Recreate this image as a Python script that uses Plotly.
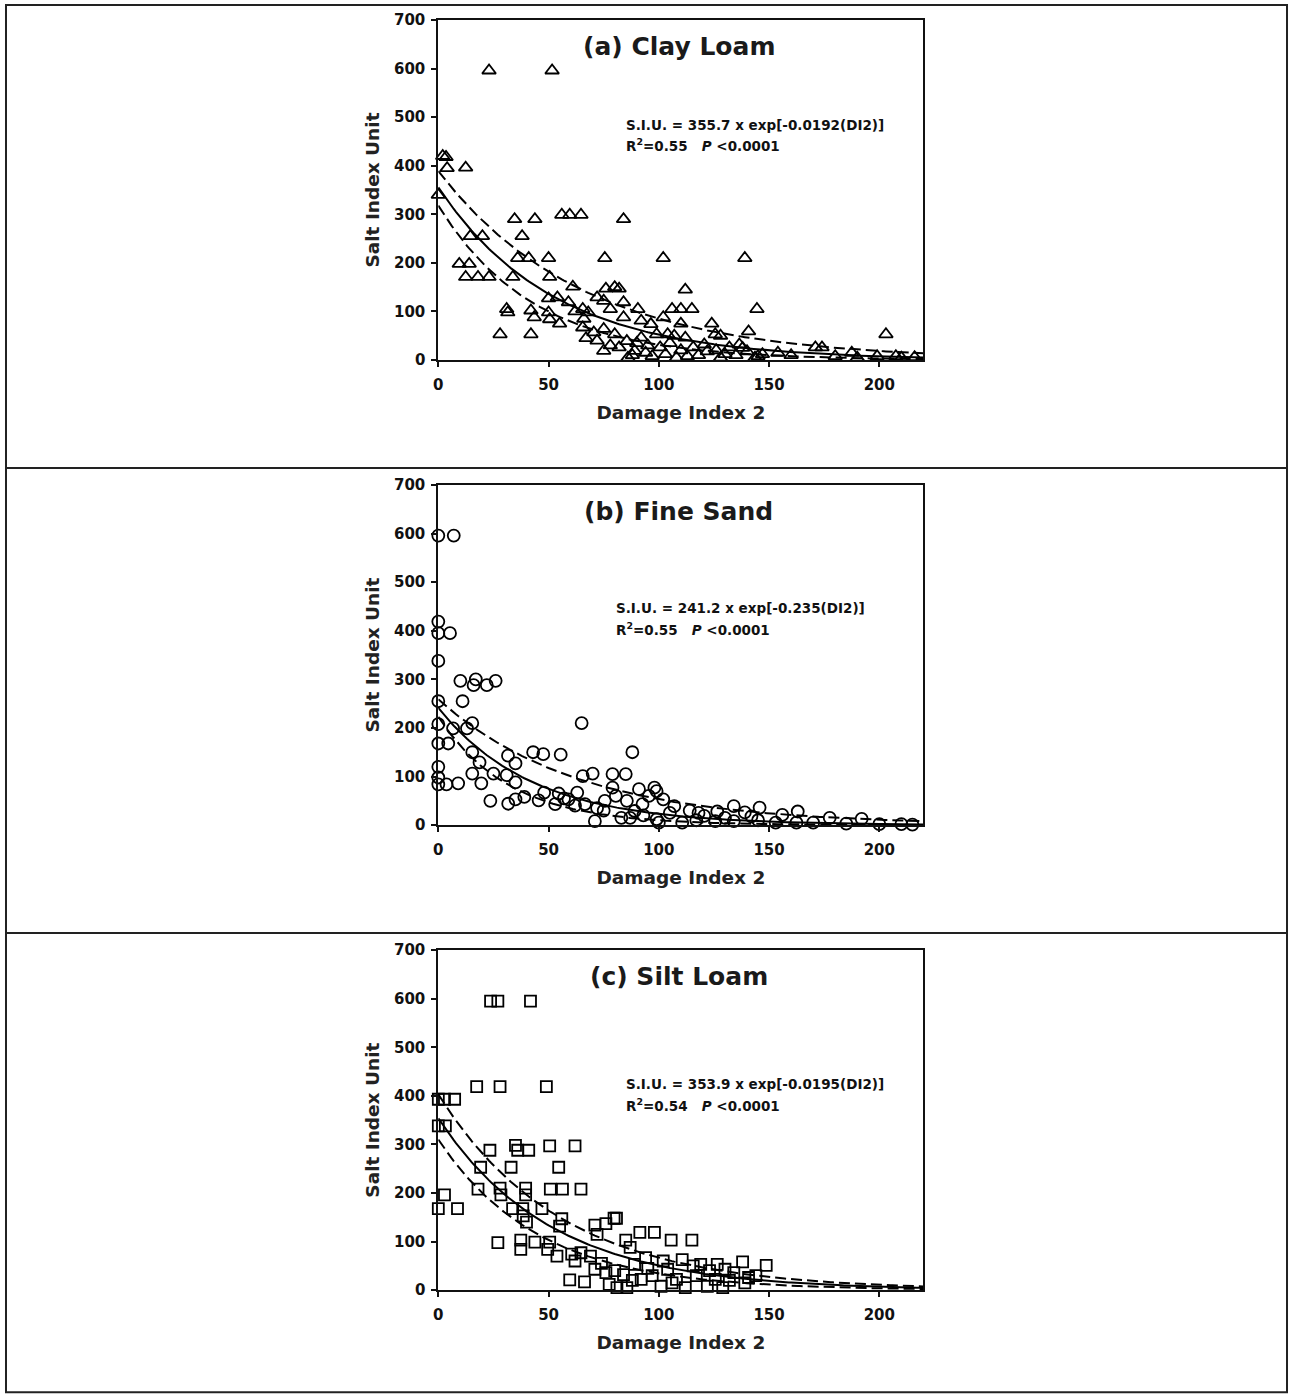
import numpy as np
import plotly.graph_objects as go

W, H = 1290, 1397

# ---------------- data ----------------
panel_titles = ["(a) Clay Loam", "(b) Fine Sand", "(c) Silt Loam"]
eq_lines = [
    "S.I.U. = 355.7 x exp[-0.0192(DI2)]",
    "S.I.U. = 241.2 x exp[-0.235(DI2)]",
    "S.I.U. = 353.9 x exp[-0.0195(DI2)]",
]
r2_values = ["0.55", "0.55", "0.54"]

# fitted model parameters (a, b), upper band (a, b), lower band (a, b)
fit_mid = [(355.7, 0.0192), (241.2, 0.0235), (353.9, 0.0195)]
fit_up = [(389.0, 0.0152), (259.0, 0.0158), (403.0, 0.0180)]
fit_lo = [(318.0, 0.0232), (223.0, 0.0312), (310.0, 0.0220)]

a_x = [23, 51.6, 2, 3.5, 4, 12.4, 0, 34.6, 43.8, 56, 59.6, 64.7, 84, 38, 14.5, 20, 36, 41, 50, 75.5,
       102, 139, 9.5, 14, 12.4, 18, 23, 33.8, 50.5, 61, 76, 80, 82, 112, 50, 54, 59, 72, 75, 84,
       78, 31, 31.5, 42, 43.5, 50, 50.5, 55, 65.5, 68, 90.5, 106, 110, 115, 144.5, 102, 110, 124,
       140.7, 203, 28, 42, 84, 92, 96.4, 65.5, 67, 70.5, 75, 75, 80, 82, 85.5, 89, 92, 94, 99,
       100.6, 104, 107, 108, 112, 115.6, 120.6, 125.6, 128, 128, 132, 136.5, 143.6, 147, 154, 171,
       174, 187.5, 199, 207.5, 216, 88, 95, 97, 103, 110, 118, 122, 135, 140, 62, 66, 72, 78, 86,
       90, 105, 113, 126, 130, 138, 145, 160, 180, 190, 210]
a_y = [596, 596, 420, 418, 395, 396, 340, 290, 290, 299, 299, 299, 290, 255, 255, 255, 210, 210, 210, 210,
       210, 210, 198, 198, 171, 171, 171, 171, 171, 151, 147, 150, 147, 145, 127, 129, 119, 129, 122, 119,
       105, 105, 98, 102, 88, 98, 84, 75, 105, 98, 105, 105, 105, 105, 105, 88, 75, 75,
       59, 53, 53, 53, 88, 81, 74, 67, 45, 57, 64, 19, 53, 26, 39, 19, 46, 15, 53,
       26, 53, 50, 5, 46, 26, 32, 53, 50, 5, 26, 32, 5, 12, 15, 26,
       26, 15, 8, 8, 6, 10, 30, 8, 12, 20, 10, 18, 10, 18, 100, 85, 40, 30, 5,
       35, 35, 8, 20, 12, 25, 8, 10, 8, 5, 5]

b_x = [0, 7, 0, 0, 5.3, 0, 10, 17, 16, 22, 26, 11, 0, 0, 15.4, 6.7, 13, 65, 0, 4.5, 15.4, 31.6, 35,
       43, 47.6, 55.5, 88, 18.7, 0, 0, 0, 3.7, 9, 19.5, 15.4, 25, 31, 35, 23.6, 31.7, 35, 39, 45.5,
       48, 53, 54.6, 59, 63, 65.5, 70, 66.5, 71, 79, 85, 79, 80.5, 75.5, 85.5, 91, 95.5, 98, 99, 102,
       92.6, 89, 83, 87, 99, 107, 114, 110.6, 120.6, 126.5, 134, 139, 145.7, 156, 163, 162.4, 153,
       177.5, 192, 134, 125.6, 75, 93, 105, 117, 130, 145, 170, 185, 200, 210, 215, 57, 62, 72, 100,
       118, 142]
b_y = [596, 596, 419, 395, 395, 338, 297, 300, 288, 288, 297, 255, 255, 208, 210, 199, 199, 210, 168, 168,
       150, 143, 127, 150, 146, 145, 150, 129, 120, 98, 84, 84, 86, 86, 106, 106, 103, 88, 50, 44, 53,
       58, 51, 67, 43, 65, 53, 67, 101, 106, 43, 8, 105, 105, 77, 60, 50, 50, 74, 60, 77, 70, 53,
       43, 29, 15, 15, 12, 39, 30, 5, 19, 28, 39, 26, 36, 21, 28, 5, 5,
       15, 13, 8, 8, 30, 20, 25, 10, 15, 10, 5, 3, 2, 2, 1, 55, 40, 35, 5,
       25, 18]

c_x = [23.7, 27, 41.8, 17.4, 28, 49, 0, 2.8, 7.4, 0, 3.2, 23.4, 35, 36, 41, 50.5, 62, 19.2, 33, 54.6,
       2.8, 0, 8.7, 18, 28, 28.4, 39.6, 39.6, 50.8, 56.3, 64.7, 33.7, 38.5, 38.3, 47, 56, 55, 79.7,
       80.8, 71, 76, 72, 91.4, 98, 85, 87, 105.6, 115, 27, 37.4, 37.4, 43.8, 50.5, 49.6, 53.8, 60.5,
       64.7, 69, 59.6, 66.3, 71, 76, 77.5, 81, 85.5, 84, 89, 92, 94, 101, 102, 104, 110.6, 108, 112,
       115.6, 119, 122, 125.6, 126.5, 130, 134, 138, 140.7, 148.7, 129, 139, 62, 74, 80, 88, 95, 97,
       106, 117, 123, 132, 144, 40]
c_y = [595, 595, 595, 419, 419, 419, 393, 393, 393, 338, 338, 288, 298, 288, 288, 297, 297, 253, 253, 253,
       196, 168, 168, 208, 210, 196, 210, 196, 208, 208, 208, 168, 153, 168, 168, 147, 132, 148,
       148, 134, 137, 115, 119, 119, 103, 88, 103, 103, 98, 103, 84, 99, 99, 84, 70, 74,
       77, 70, 21, 17, 43, 36, 12, 5, 5, 32, 53, 22, 67, 8, 60, 43, 63, 22, 5,
       50, 53, 8, 22, 53, 43, 36, 58, 26, 51, 5, 15, 60, 55, 40, 20, 45, 30,
       15, 30, 40, 20, 30, 140]

xs_all = [a_x, b_x, c_x]
ys_all = [a_y, b_y, c_y]
symbols = ["triangle-up-open", "circle-open", "square-open"]
marker_sizes = [12, 12, 11]

x_ticks = [0, 50, 100, 150, 200]
y_ticks = [0, 100, 200, 300, 400, 500, 600, 700]

# ---------------- layout geometry (target picture pixels) ----------------
plot_left, plot_right = 437, 924
plot_tops = [20, 485, 950]
plot_h = 340
eq_x = [84, 79.5, 84]
eq_y1 = [484, 447, 424]
eq_y2 = [443, 404, 381]

FONT = "DejaVu Sans, Arial, sans-serif"

# mapping from picture pixels to page pixels (compensates the capture offset)
SHIFT_X, SHIFT_Y, SCALE_Y = 2.0, 9.0, 0.987


def fx(px):
    return (px - SHIFT_X) / W


def fy(py):
    page = (py - SHIFT_Y) / SCALE_Y
    return 1 - page / H


fig = go.Figure()
curve_x = np.linspace(0, 220, 221)

for i in range(3):
    xa = "x" if i == 0 else f"x{i+1}"
    ya = "y" if i == 0 else f"y{i+1}"
    fig.add_trace(go.Scatter(
        x=xs_all[i], y=ys_all[i], mode="markers", xaxis=xa, yaxis=ya,
        marker=dict(symbol=symbols[i], size=marker_sizes[i], color="black",
                    line=dict(color="black", width=1.8)),
        showlegend=False, cliponaxis=False))
    a, b = fit_mid[i]
    fig.add_trace(go.Scatter(x=curve_x, y=a * np.exp(-b * curve_x), mode="lines",
                             xaxis=xa, yaxis=ya, line=dict(color="black", width=2),
                             showlegend=False))
    for (aa, bb) in (fit_up[i], fit_lo[i]):
        fig.add_trace(go.Scatter(x=curve_x, y=aa * np.exp(-bb * curve_x), mode="lines",
                                 xaxis=xa, yaxis=ya,
                                 line=dict(color="black", width=2, dash="11px,5px"),
                                 showlegend=False))

layout = dict(width=W, height=H, margin=dict(l=0, r=0, t=0, b=0),
              paper_bgcolor="white", plot_bgcolor="white", showlegend=False)

axis_common = dict(showgrid=False, zeroline=False, showline=True, linecolor="#111",
                   linewidth=2, mirror=True, ticks="outside", ticklen=5, tickwidth=1.5,
                   tickcolor="#111",
                   tickfont=dict(family=FONT, size=15, color="#111", weight="bold"))

annotations = []
for i in range(3):
    top = plot_tops[i]
    bot = top + plot_h
    xdom = [fx(plot_left), fx(plot_right)]
    ydom = [fy(bot), fy(top)]
    xkey = "xaxis" if i == 0 else f"xaxis{i+1}"
    ykey = "yaxis" if i == 0 else f"yaxis{i+1}"
    yname = "y" if i == 0 else f"y{i+1}"
    xname = "x" if i == 0 else f"x{i+1}"
    layout[xkey] = dict(axis_common, domain=xdom, anchor=yname, range=[0, 220],
                        tickvals=x_ticks, ticklabelstandoff=5,
                        title=dict(text="Damage Index 2", standoff=13,
                                   font=dict(family=FONT, size=18.5, color="#222", weight="bold")))
    layout[ykey] = dict(axis_common, domain=ydom, anchor=xname, range=[0, 700],
                        tickvals=y_ticks, ticklabelstandoff=3,
                        title=dict(text="Salt Index Unit", standoff=10,
                                   font=dict(family=FONT, size=18.5, color="#222", weight="bold")))
    annotations.append(dict(xref=xname, yref=yname, x=109, y=646,
                            text=panel_titles[i], showarrow=False,
                            font=dict(family=FONT, size=25, color="#1a1a1a", weight="bold"),
                            xanchor="center", yanchor="middle"))
    annotations.append(dict(xref=xname, yref=yname, x=eq_x[i], y=eq_y1[i],
                            text=eq_lines[i], showarrow=False,
                            font=dict(family=FONT, size=13.5, color="#111", weight="bold"),
                            xanchor="left", yanchor="middle"))
    annotations.append(dict(xref=xname, yref=yname, x=eq_x[i], y=eq_y2[i],
                            text=f"R<sup>2</sup>={r2_values[i]}   <i>P</i> &lt;0.0001",
                            showarrow=False,
                            font=dict(family=FONT, size=13.5, color="#111", weight="bold"),
                            xanchor="left", yanchor="middle"))

layout["annotations"] = annotations

# outer frame and separators
line_style = dict(color="#222", width=2)
top_frame = max(fy(5), 1 - 1.0 / H)
bottom_frame = min(fy(1392), 1.0 / H)
layout["shapes"] = [
    dict(type="rect", xref="paper", yref="paper", x0=fx(3), x1=fx(1289),
         y0=bottom_frame, y1=top_frame, line=line_style),
    dict(type="line", xref="paper", yref="paper", x0=fx(3), x1=fx(1289),
         y0=fy(468), y1=fy(468), line=line_style),
    dict(type="line", xref="paper", yref="paper", x0=fx(3), x1=fx(1289),
         y0=fy(933), y1=fy(933), line=line_style),
]

fig.update_layout(**layout)
fig.write_html(
    "out.html",
    config={"displayModeBar": False},
    post_script="document.body.style.margin='0';document.documentElement.style.overflow='hidden';",
)
